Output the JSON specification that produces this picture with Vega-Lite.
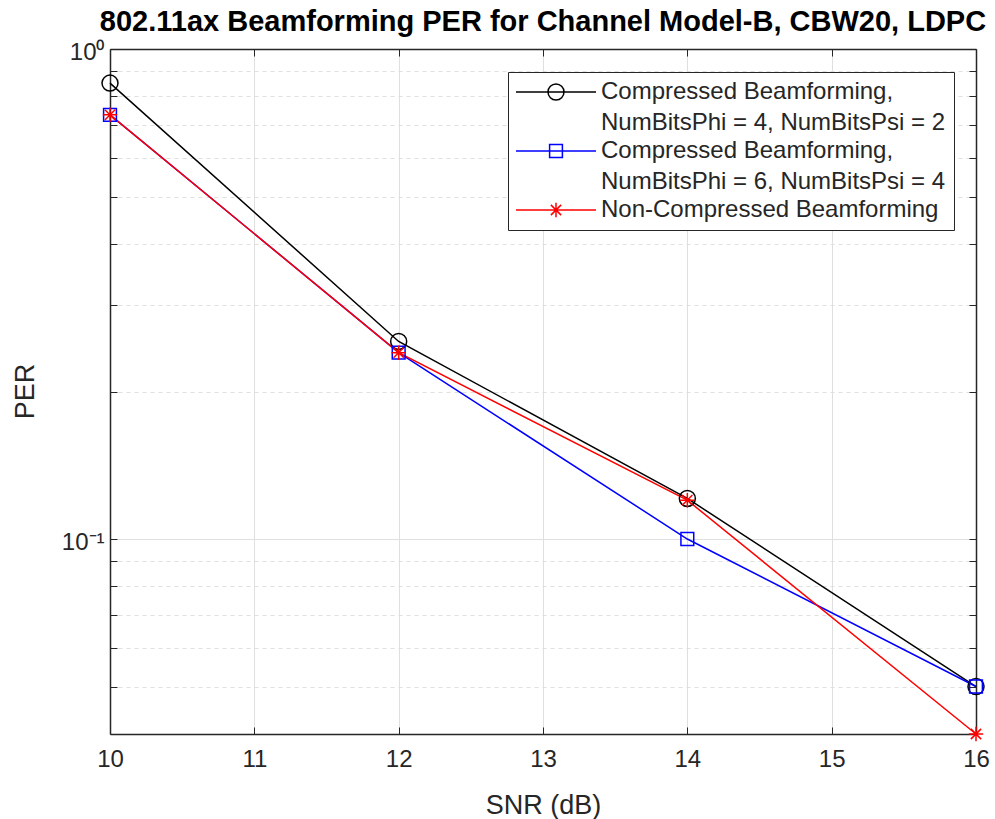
{
  "$schema": "https://vega.github.io/schema/vega-lite/v6.json",
  "width": 866,
  "height": 685,
  "autosize": {"type": "none"},
  "padding": {"left": 110, "top": 49, "right": 19, "bottom": 85},
  "background": "white",
  "title": {
    "text": "802.11ax Beamforming PER for Channel Model-B, CBW20, LDPC",
    "font": "Liberation Sans",
    "fontSize": 29,
    "fontWeight": "bold",
    "color": "#000000",
    "anchor": "middle",
    "frame": "group",
    "baseline": "alphabetic",
    "offset": 16,
    "dy": 36
  },
  "config": {
    "view": {"stroke": null},
    "font": "Liberation Sans",
    "style": {"guide-label": {"lineHeight": 31}}
  },
  "data": {
    "values": [
      {"snr": 10, "per": 0.852, "series": "Compressed Beamforming, NumBitsPhi = 4, NumBitsPsi = 2"},
      {"snr": 12, "per": 0.253, "series": "Compressed Beamforming, NumBitsPhi = 4, NumBitsPsi = 2"},
      {"snr": 14, "per": 0.121, "series": "Compressed Beamforming, NumBitsPhi = 4, NumBitsPsi = 2"},
      {"snr": 16, "per": 0.05, "series": "Compressed Beamforming, NumBitsPhi = 4, NumBitsPsi = 2"},
      {"snr": 10, "per": 0.734, "series": "Compressed Beamforming, NumBitsPhi = 6, NumBitsPsi = 4"},
      {"snr": 12, "per": 0.24, "series": "Compressed Beamforming, NumBitsPhi = 6, NumBitsPsi = 4"},
      {"snr": 14, "per": 0.1, "series": "Compressed Beamforming, NumBitsPhi = 6, NumBitsPsi = 4"},
      {"snr": 16, "per": 0.05, "series": "Compressed Beamforming, NumBitsPhi = 6, NumBitsPsi = 4"},
      {"snr": 10, "per": 0.734, "series": "Non-Compressed Beamforming"},
      {"snr": 12, "per": 0.24, "series": "Non-Compressed Beamforming"},
      {"snr": 14, "per": 0.12, "series": "Non-Compressed Beamforming"},
      {"snr": 16, "per": 0.04, "series": "Non-Compressed Beamforming"}
    ]
  },
  "layer": [
    {
      "transform": [{"filter": "datum.snr < 0"}],
      "mark": {"type": "point", "filled": false, "strokeWidth": 1.5, "size": 256, "opacity": 1},
      "encoding": {
        "x": {
          "field": "snr", "type": "quantitative",
          "scale": {"domain": [10, 16], "nice": false, "zero": false},
          "axis": {
            "orient": "bottom",
            "values": [10, 11, 12, 13, 14, 15, 16],
            "format": "d",
            "title": "SNR (dB)",
            "grid": true, "gridColor": "#dfdfdf", "gridWidth": 1,
            "tickSize": -7, "tickColor": "#262626", "tickWidth": 1,
            "domainColor": "#262626", "domainWidth": 1.5,
            "labelFont": "Liberation Sans", "labelFontSize": 24, "labelColor": "#262626",
            "labelBaseline": "alphabetic", "labelPadding": 39,
            "labelFlush": false, "labelOverlap": false,
            "titleFont": "Liberation Sans", "titleFontSize": 27, "titleFontWeight": "normal",
            "titleColor": "#262626", "titleBaseline": "alphabetic", "titleY": 79, "titleX": 433
          }
        },
        "y": {
          "field": "per", "type": "quantitative",
          "scale": {"type": "log", "domain": [0.04, 1], "nice": false},
          "axis": {
            "orient": "left",
            "values": [0.05, 0.06, 0.07, 0.08, 0.09, 0.1, 0.2, 0.3, 0.4, 0.5, 0.6, 0.7, 0.8, 0.9, 1],
            "labelExpr": "datum.value == 1 ? '10⁰' : datum.value == 0.1 ? '10⁻¹' : ''",
            "title": "PER",
            "grid": true, "gridColor": "#dfdfdf", "gridWidth": 1,
            "gridDash": {"condition": {"test": "datum.value == 0.1 || datum.value == 1", "value": []}, "value": [4, 4]},
            "tickSize": -7, "tickColor": "#262626", "tickWidth": 1,
            "domainColor": "#262626", "domainWidth": 1.5,
            "labelFont": "Liberation Sans", "labelFontSize": 24, "labelColor": "#262626",
            "labelPadding": 13, "labelOffset": 3, "labelBaseline": "middle",
            "labelFlush": false, "labelOverlap": false,
            "titleFont": "Liberation Sans", "titleFontSize": 27, "titleFontWeight": "normal",
            "titleColor": "#262626", "titleBaseline": "alphabetic", "titleAngle": -90,
            "titleAlign": "center", "titleX": -77, "titleY": 342
          }
        },
        "color": {
          "field": "series", "type": "nominal",
          "scale": {
            "domain": [
              "Compressed Beamforming, NumBitsPhi = 4, NumBitsPsi = 2",
              "Compressed Beamforming, NumBitsPhi = 6, NumBitsPsi = 4",
              "Non-Compressed Beamforming"
            ],
            "range": ["#000000", "#0000ff", "#ff0000"]
          },
          "legend": {
            "orient": "none", "legendX": 398, "legendY": 23,
            "title": null, "padding": 8,
            "strokeColor": "#262626", "fillColor": "#ffffff", "cornerRadius": 0,
            "symbolSize": 256, "symbolOffset": 28, "labelOffset": 33,
            "symbolStrokeWidth": 1.5, "symbolFillColor": "transparent", "symbolOpacity": 1,
            "labelFont": "Liberation Sans", "labelFontSize": 24, "labelColor": "#262626",
            "labelLimit": 1000, "rowPadding": 4, "labelBaseline": "middle",
            "labelExpr": "indexof(datum.label, 'NumBits') > 0 ? [slice(datum.label, 0, indexof(datum.label, 'NumBits') - 1), slice(datum.label, indexof(datum.label, 'NumBits'))] : datum.label"
          }
        },
        "shape": {
          "field": "series", "type": "nominal",
          "scale": {
            "domain": [
              "Compressed Beamforming, NumBitsPhi = 4, NumBitsPsi = 2",
              "Compressed Beamforming, NumBitsPhi = 6, NumBitsPsi = 4",
              "Non-Compressed Beamforming"
            ],
            "range": [
              "M-5,0L5,0M-1,0A1,1 0 1,1 1,0A1,1 0 1,1 -1,0Z",
              "M-5,0L5,0M-0.8,-0.8L0.8,-0.8L0.8,0.8L-0.8,0.8Z",
              "M-5,0L5,0M0,-0.9L0,0.9M-0.9,0L0.9,0M-0.64,-0.64L0.64,0.64M-0.64,0.64L0.64,-0.64"
            ]
          },
          "legend": {
            "orient": "none", "legendX": 398, "legendY": 23,
            "title": null, "padding": 8,
            "strokeColor": "#262626", "fillColor": "#ffffff", "cornerRadius": 0,
            "symbolSize": 256, "symbolOffset": 28, "labelOffset": 33,
            "symbolStrokeWidth": 1.5, "symbolFillColor": "transparent", "symbolOpacity": 1,
            "labelFont": "Liberation Sans", "labelFontSize": 24, "labelColor": "#262626",
            "labelLimit": 1000, "rowPadding": 4, "labelBaseline": "middle",
            "labelExpr": "indexof(datum.label, 'NumBits') > 0 ? [slice(datum.label, 0, indexof(datum.label, 'NumBits') - 1), slice(datum.label, indexof(datum.label, 'NumBits'))] : datum.label"
          }
        }
      }
    },
    {
      "mark": {"type": "line", "strokeWidth": 1.5},
      "encoding": {
        "x": {
          "field": "snr", "type": "quantitative",
          "axis": {
            "orient": "top", "values": [10, 11, 12, 13, 14, 15, 16],
            "labels": false, "title": null, "grid": false,
            "tickSize": -7, "tickColor": "#262626", "tickWidth": 1,
            "domainColor": "#262626", "domainWidth": 1.5
          }
        },
        "y": {
          "field": "per", "type": "quantitative",
          "axis": {
            "orient": "right",
            "values": [0.05, 0.06, 0.07, 0.08, 0.09, 0.1, 0.2, 0.3, 0.4, 0.5, 0.6, 0.7, 0.8, 0.9, 1],
            "labels": false, "title": null, "grid": false,
            "tickSize": -7, "tickColor": "#262626", "tickWidth": 1,
            "domainColor": "#262626", "domainWidth": 1.5
          }
        },
        "color": {"field": "series", "type": "nominal"}
      }
    },
    {
      "transform": [{"filter": "datum.series == 'Compressed Beamforming, NumBitsPhi = 4, NumBitsPsi = 2'"}],
      "mark": {"type": "point", "filled": false, "strokeWidth": 1.5, "size": 256, "opacity": 1, "shape": "M-1,0A1,1 0 1,1 1,0A1,1 0 1,1 -1,0Z"},
      "encoding": {
        "x": {"field": "snr", "type": "quantitative", "axis": null},
        "y": {"field": "per", "type": "quantitative", "axis": null},
        "color": {"field": "series", "type": "nominal"}
      }
    },
    {
      "transform": [{"filter": "datum.series == 'Compressed Beamforming, NumBitsPhi = 6, NumBitsPsi = 4'"}],
      "mark": {"type": "point", "filled": false, "strokeWidth": 1.5, "size": 256, "opacity": 1, "shape": "M-0.8,-0.8L0.8,-0.8L0.8,0.8L-0.8,0.8Z"},
      "encoding": {
        "x": {"field": "snr", "type": "quantitative", "axis": null},
        "y": {"field": "per", "type": "quantitative", "axis": null},
        "color": {"field": "series", "type": "nominal"}
      }
    },
    {
      "transform": [{"filter": "datum.series == 'Non-Compressed Beamforming'"}],
      "mark": {"type": "point", "filled": false, "strokeWidth": 1.5, "size": 256, "opacity": 1, "shape": "M0,-0.9L0,0.9M-0.9,0L0.9,0M-0.64,-0.64L0.64,0.64M-0.64,0.64L0.64,-0.64"},
      "encoding": {
        "x": {"field": "snr", "type": "quantitative", "axis": null},
        "y": {"field": "per", "type": "quantitative", "axis": null},
        "color": {"field": "series", "type": "nominal"}
      }
    }
  ],
  "resolve": {"axis": {"x": "independent", "y": "independent"}}
}
